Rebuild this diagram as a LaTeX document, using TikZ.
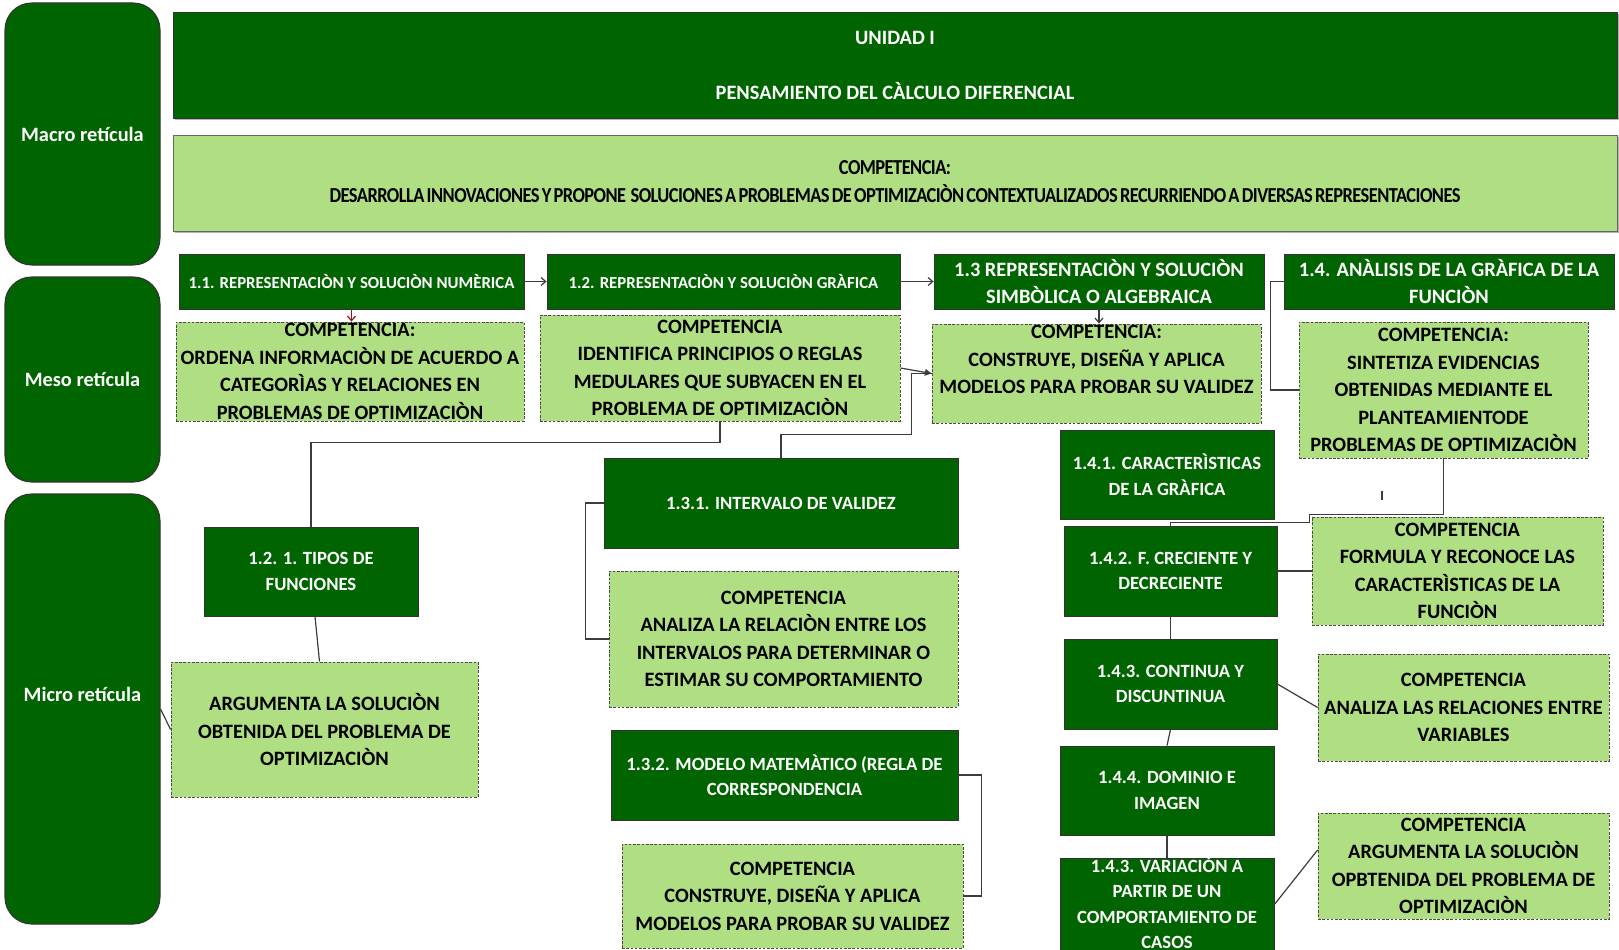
\documentclass[tikz,border=0pt]{standalone}
\usepackage{fontspec}
\setmainfont{Carlito}
\usetikzlibrary{fit,calc,arrows.meta,shadows}

\definecolor{dgreen}{RGB}{0,100,0}
\definecolor{lgreen}{RGB}{176,222,130}
\definecolor{linkgray}{RGB}{60,60,60}
\definecolor{linkred}{RGB}{140,25,25}

\newcommand\fbig{\bfseries\fontsize{15.3}{20.6}\selectfont}
\newcommand\fmid{\bfseries\fontsize{14}{19.1}\selectfont}
\newcommand\fsmall{\bfseries\fontsize{12.6}{16}\selectfont}
% tight, condensed setting for the long unit competence line
\newcommand\ftight{\bfseries\fontsize{16}{20.6}\selectfont\addfontfeature{LetterSpace=-3}\spaceskip=0.12em\relax}

% a box spanning two corners, with its text centred on it
\newcommand\panel[6]{\node[#1, fit={#4 #5}, label={[#2]center:{#6}}] (#3) {};}

\tikzset{
  side/.style={draw=black!80, line width=0.8pt, fill=dgreen, rounded corners=20pt, inner sep=0pt},
  dbox/.style={draw=black!80, line width=0.6pt, fill=dgreen, inner sep=0pt},
  lbox/.style={draw=black!70, line width=0.6pt, dash pattern=on 2pt off 1.2pt, fill=lgreen, inner sep=0pt},
  lsolid/.style={draw=black!60, line width=0.6pt, fill=lgreen, inner sep=0pt},
  banner/.style={drop shadow={shadow xshift=1.2pt, shadow yshift=-1.2pt, opacity=0.3, fill=black}},
  tw/.style={text=white, font=\fbig, align=center, inner sep=0pt},
  tm/.style={text=white, font=\fmid, align=center, inner sep=0pt},
  ts/.style={text=white, font=\fsmall, align=center, inner sep=0pt},
  tb/.style={text=black, font=\fbig, align=center, inner sep=0pt},
  link/.style={draw=linkgray, line width=0.9pt},
  openhead/.style={-{Straight Barb[length=3.5pt,width=6pt]}},
}

\begin{document}
\begin{tikzpicture}[x=0.75pt, y=-0.75pt]
\useasboundingbox (0,0) rectangle (1619,949);

% level column
\panel{side}{tw}{macro}{(5,3)}{(160,265)}{Macro retícula}
\panel{side}{tw}{meso}{(5,277)}{(160,482)}{Meso retícula}
\panel{side}{tw,yshift=11.25pt}{micro}{(5,494)}{(160,924)}{Micro retícula}

% unit banners
\panel{dbox,banner}{tw}{unit}{(173,12)}{(1617,118)}{UNIDAD I\\[20.6pt]PENSAMIENTO DEL CÀLCULO DIFERENCIAL}
\panel{lsolid,banner}{tb,font=\ftight}{unitcomp}{(173,135)}{(1617,231)}{\resizebox{848pt}{\height}{\begin{tabular}{@{}c@{}}COMPETENCIA:\\DESARROLLA INNOVACIONES Y PROPONE~~SOLUCIONES A PROBLEMAS DE OPTIMIZACIÒN CONTEXTUALIZADOS RECURRIENDO A DIVERSAS REPRESENTACIONES\end{tabular}}}

% meso level
\panel{dbox}{ts}{n11}{(179,254)}{(524,309)}{1.1. REPRESENTACIÒN Y SOLUCIÒN NUMÈRICA}
\panel{lbox}{tb}{n11c}{(176,322)}{(524,421)}{COMPETENCIA:\\ORDENA INFORMACIÒN DE ACUERDO A\\CATEGORÌAS Y RELACIONES EN\\PROBLEMAS DE OPTIMIZACIÒN}
\panel{dbox}{ts}{n12}{(547,254)}{(900,309)}{1.2. REPRESENTACIÒN Y SOLUCIÒN GRÀFICA}
\panel{lbox}{tb}{n12c}{(540,315)}{(900,421)}{COMPETENCIA\\IDENTIFICA PRINCIPIOS O REGLAS\\MEDULARES QUE SUBYACEN EN EL\\PROBLEMA DE OPTIMIZACIÒN}
\panel{dbox}{tw}{n13}{(934,254)}{(1264,309)}{1.3 REPRESENTACIÒN Y SOLUCIÒN\\SIMBÒLICA O ALGEBRAICA}
\panel{lbox}{tb,yshift=10.5pt}{n13c}{(932,324)}{(1261,423)}{COMPETENCIA:\\CONSTRUYE, DISEÑA Y APLICA\\MODELOS PARA PROBAR SU VALIDEZ}
\panel{dbox}{tw}{n14}{(1284,254)}{(1614,309)}{1.4. ANÀLISIS DE LA GRÀFICA DE LA\\FUNCIÒN}
\panel{lbox}{tb}{n14c}{(1299,322)}{(1588,458)}{COMPETENCIA:\\SINTETIZA EVIDENCIAS\\OBTENIDAS MEDIANTE EL\\PLANTEAMIENTODE\\PROBLEMAS DE OPTIMIZACIÒN}

% micro level
\panel{dbox}{tm}{n121}{(204,527)}{(418,616)}{1.2. 1. TIPOS DE\\FUNCIONES}
\panel{lbox}{tb}{narg}{(171,662)}{(478,797)}{ARGUMENTA LA SOLUCIÒN\\OBTENIDA DEL PROBLEMA DE\\OPTIMIZACIÒN}
\panel{dbox}{tm}{n131}{(604,458)}{(958,548)}{1.3.1. INTERVALO DE VALIDEZ}
\panel{lbox}{tb}{n131c}{(609,571)}{(958,707)}{COMPETENCIA\\ANALIZA LA RELACIÒN ENTRE LOS\\INTERVALOS PARA DETERMINAR O\\ESTIMAR SU COMPORTAMIENTO}
\panel{dbox}{tm}{n132}{(611,730)}{(958,820)}{1.3.2. MODELO MATEMÀTICO (REGLA DE\\CORRESPONDENCIA}
\panel{lbox}{tb}{n132c}{(622,844)}{(963,948)}{COMPETENCIA\\CONSTRUYE, DISEÑA Y APLICA\\MODELOS PARA PROBAR SU VALIDEZ}
\panel{dbox}{tm}{n141}{(1060,430)}{(1274,519)}{1.4.1. CARACTERÌSTICAS\\DE LA GRÀFICA}
\panel{dbox}{tm}{n142}{(1064,526)}{(1277,616)}{1.4.2. F. CRECIENTE Y\\DECRECIENTE}
\panel{lbox}{tb}{n142c}{(1312,517)}{(1603,625)}{COMPETENCIA\\FORMULA Y RECONOCE LAS\\CARACTERÌSTICAS DE LA\\FUNCIÒN}
\panel{dbox}{tm}{n143}{(1064,639)}{(1277,729)}{1.4.3. CONTINUA Y\\DISCUNTINUA}
\panel{lbox}{tb}{n143c}{(1318,654)}{(1609,761)}{COMPETENCIA\\ANALIZA LAS RELACIONES ENTRE\\VARIABLES}
\panel{dbox}{tm}{n144}{(1060,746)}{(1274,835)}{1.4.4. DOMINIO E\\IMAGEN}
\panel{dbox}{tm,yshift=1.5pt}{n145}{(1060,858)}{(1274,951)}{1.4.3. VARIACIÒN A\\PARTIR DE UN\\COMPORTAMIENTO DE\\CASOS}
\panel{lbox}{tb}{n145c}{(1318,813)}{(1609,919)}{COMPETENCIA\\ARGUMENTA LA SOLUCIÒN\\OPBTENIDA DEL PROBLEMA DE\\OPTIMIZACIÒN}

% connectors
\draw[link, openhead] (n11.east) -- (n12.west);
\draw[link, openhead] (n12.east) -- (n13.west);
\draw[link, draw=linkred, openhead] (n11.south) -- (n11.south |- n11c.north);
\draw[link, openhead] (n13.south) -- (n13.south |- n13c.north);
\draw[link, -{Triangle[length=5pt,width=5pt]}] (n12c.east) -- (n13c.west);
\draw[link] (n131.north) -- ++(0,-23) -| ($(n13c.west)+(-20,0)$) -- (n13c.west);
\draw[link] (n12c.south) -- ++(0,21) -| (n121.north);
\draw[link] ($(n121.south)+(4,0)$) -- ($(narg.north)+(-5,0)$);
\draw[link] (micro.east) -- (narg.west);
\draw[link] (n131.west) -- ++(-18,0) |- (n131c.west);
\draw[link] (n132.east) -- ++(23,0) |- (n132c.east);
\draw[link] (n14.west) -- ++(-13,0) |- (n14c.west);
\draw[link] (n14c.south) -- ++(0,56) -- ++(-134,0) -- ++(0,8) -| (n142.north);
\draw[link] (1382,491) -- (1382,500);
\draw[link] (n142.east) -- (n142c.west);
\draw[link] (n142.south) -- (n143.north);
\draw[link] (n143.east) -- (n143c.west);
\draw[link] (n143.south) -- (n144.north);
\draw[link] (n144.south) -- (n145.north);
\draw[link] (n145.east) -- ($(n145c.west)+(0,-16)$);
\end{tikzpicture}
\end{document}
